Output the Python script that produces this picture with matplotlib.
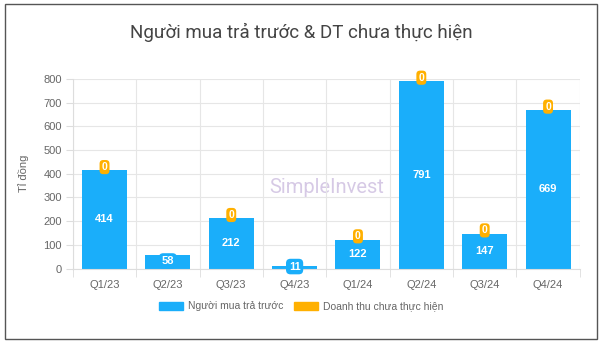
import matplotlib.pyplot as plt
from matplotlib.patches import Rectangle, Patch

plt.rcParams['font.family'] = ['Liberation Sans', 'DejaVu Sans']

quarters = ['Q1/23', 'Q2/23', 'Q3/23', 'Q4/23', 'Q1/24', 'Q2/24', 'Q3/24', 'Q4/24']
nguoi_mua = [414, 58, 212, 11, 122, 791, 147, 669]
doanh_thu = [0, 0, 0, 0, 0, 0, 0, 0]
show_zero = [True, False, True, False, True, True, True, True]

blue = '#1aaefa'
orange = '#ffb000'
grey = '#666666'

fig = plt.figure(figsize=(6.02, 3.43), dpi=100)
fig.patches.append(Rectangle((0.008, 0.012), 0.984, 0.976, transform=fig.transFigure,
                             fill=False, edgecolor='#555555', lw=1.0))
ax = fig.add_axes([0.121, 0.217, 0.842, 0.553])

x = range(len(quarters))
ax.bar(x, nguoi_mua, width=0.71, color=blue, zorder=2)
ax.bar(x, doanh_thu, width=0.71, bottom=nguoi_mua, color=orange, zorder=2)

for i, v in enumerate(nguoi_mua):
    if v > 100:
        ax.text(i, v / 2, str(v), ha='center', va='center', color='white',
                fontsize=8, fontweight='bold', zorder=4)
    else:
        ax.text(i, v / 2 + 3, str(v), ha='center', va='center', color='white',
                fontsize=8, fontweight='bold', zorder=4,
                bbox=dict(boxstyle='round,pad=0.25,rounding_size=0.4', fc=blue, ec='none'))
    if show_zero[i]:
        ax.text(i, v + doanh_thu[i] + 14, '0', ha='center', va='center', color='white',
                fontsize=7.5, fontweight='bold', zorder=5,
                bbox=dict(boxstyle='round,pad=0.2,rounding_size=0.35', fc=orange, ec='none'))

ax.set_xlim(-0.5, len(quarters) - 0.5)
ax.set_ylim(0, 800)
ax.set_yticks(range(0, 801, 100))
ax.set_xticks(list(x))
ax.set_xticklabels(quarters)
ax.set_xticks([i + 0.5 for i in range(-1, len(quarters))], minor=True)
ax.tick_params(axis='x', which='major', length=0, pad=8, labelsize=8, labelcolor=grey)
ax.tick_params(axis='x', which='minor', length=6, color='#dddddd')
ax.tick_params(axis='y', length=5, color='#dddddd', labelsize=8, labelcolor=grey, pad=3)
ax.grid(axis='y', color='#e6e6e6', lw=0.8, zorder=0)
ax.grid(axis='x', which='minor', color='#e6e6e6', lw=0.8, zorder=0)
for s in ['top', 'right']:
    ax.spines[s].set_visible(False)
ax.spines['left'].set_color('#dddddd')
ax.spines['bottom'].set_color('#dddddd')
ax.set_ylabel('Tỉ đồng', fontsize=8, color=grey, labelpad=10)

# watermark
ax.text(0.5, 0.43, 'SimpleInvest', transform=ax.transAxes, ha='center', va='center',
        fontsize=14.5, color='#c9b8dd', alpha=0.75, zorder=1, family=['Roboto', 'DejaVu Sans'])

fig.text(0.5, 0.905, 'Người mua trả trước & DT chưa thực hiện', ha='center', va='center',
         fontsize=13.5, color='#444444', family=['Roboto', 'DejaVu Sans'])

handles = [Patch(color=blue, label='Người mua trả trước'),
           Patch(color=orange, label='Doanh thu chưa thực hiện')]
fig.legend(handles=handles, loc='center', bbox_to_anchor=(0.5, 0.107), ncol=2,
           frameon=False, fontsize=7.5, labelcolor=grey, handlelength=2.3, handleheight=0.8,
           columnspacing=1.0, handletextpad=0.5)

fig.savefig('out.png', dpi=100)
